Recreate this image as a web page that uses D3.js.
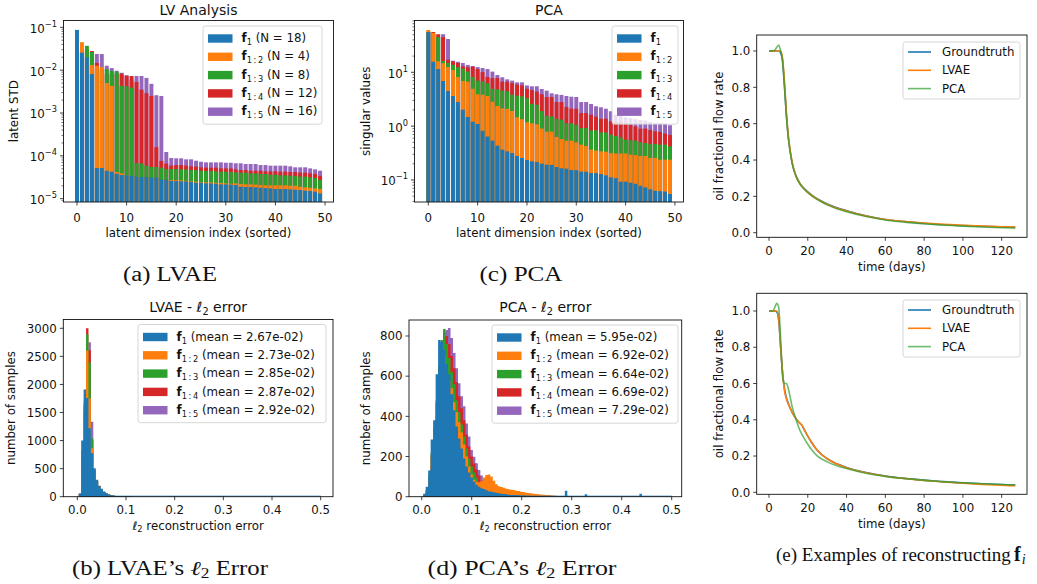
<!DOCTYPE html>
<html><head><meta charset="utf-8">
<script src="https://cdn.jsdelivr.net/npm/d3@7"></script>
<style>
body{margin:0;background:#fff}
svg{display:block}
text{font-family:"DejaVu Sans",sans-serif;fill:#111}
.cap{font-family:"Liberation Serif","DejaVu Serif",serif}
</style>
</head><body><svg id="c" width="1037" height="584"></svg>
<script>
// ---------------- DATA ----------------
const dims = d3.range(50); // latent dimension index (sorted)
const subs = ["1","1\u2009:\u20092","1\u2009:\u20093","1\u2009:\u20094","1\u2009:\u20095"];
const lvN = [18, 4, 8, 12, 16];
const lvaeMeans = ["2.67e-02","2.73e-02","2.85e-02","2.87e-02","2.92e-02"];
const pcaMeans  = ["5.95e-02","6.92e-02","6.64e-02","6.69e-02","7.29e-02"];

// (a) LV analysis : latent STD
const lvF1  = [0.087,0.0256,0.020,0.0081,5.2e-5,5.2e-5,4.5e-5,4.27e-5,3.84e-5,3.57e-5,3.5e-5,3.4e-5,3.27e-5,3.2e-5,3.2e-5,3.1e-5,3.1e-5,2.8e-5,2.75e-5,2.6e-5,2.58e-5,2.54e-5,2.54e-5,2.45e-5,2.36e-5,2.36e-5,2.28e-5,2.28e-5,2.24e-5,2.16e-5,2.16e-5,2.13e-5,2.08e-5,1.9e-5,1.87e-5,1.87e-5,1.84e-5,1.8e-5,1.77e-5,1.74e-5,1.68e-5,1.68e-5,1.68e-5,1.65e-5,1.62e-5,1.59e-5,1.54e-5,1.51e-5,1.46e-5,1.33e-5];
const lvF12 = [0.04,0.045,0.018,0.0132,0.0127,0.0118,0.005,0.0043,4.2e-5,3.9e-5,3.4e-5,3.3e-5,3.2e-5,3.1e-5,3.1e-5,3.0e-5,3.0e-5,2.7e-5,2.7e-5,2.73e-5,2.7e-5,2.68e-5,2.63e-5,2.54e-5,2.5e-5,2.45e-5,2.41e-5,2.41e-5,2.36e-5,2.32e-5,2.28e-5,2.24e-5,2.28e-5,2.2e-5,2.16e-5,2.16e-5,2.13e-5,2.08e-5,2.05e-5,2.05e-5,2.05e-5,2.05e-5,2.05e-5,2.01e-5,2.01e-5,1.9e-5,1.84e-5,1.8e-5,1.74e-5,1.68e-5];
const lvF13 = [0.03,0.03,0.037,0.0265,0.01,0.01,0.0106,0.0096,0.0092,0.0043,0.0042,0.0039,6.8e-5,6.6e-5,5.9e-5,5.5e-5,5.5e-5,5.3e-5,4.9e-5,4.9e-5,4.93e-5,4.84e-5,4.84e-5,4.67e-5,4.67e-5,4.5e-5,4.43e-5,4.43e-5,4.35e-5,4.27e-5,4.27e-5,4.2e-5,4.12e-5,4.05e-5,4.05e-5,3.9e-5,3.9e-5,3.77e-5,3.77e-5,3.63e-5,3.63e-5,3.5e-5,3.5e-5,3.45e-5,3.4e-5,3.27e-5,3.27e-5,3.15e-5,3.04e-5,2.73e-5];
const lvF14 = [0.02,0.03,0.03,0.028,0.0147,0.01,0.008,0.008,0.008,0.0083,0.0074,0.0073,0.0053,0.0035,0.0029,0.0025,1.6e-4,7.6e-5,6.6e-5,5.9e-5,6.1e-5,6.1e-5,5.9e-5,5.7e-5,5.6e-5,5.4e-5,5.3e-5,5.3e-5,5.3e-5,5.1e-5,5.1e-5,5.1e-5,4.84e-5,4.67e-5,4.67e-5,4.5e-5,4.5e-5,4.5e-5,4.35e-5,4.35e-5,4.35e-5,4.27e-5,4.27e-5,4.2e-5,4.2e-5,4.05e-5,4.05e-5,3.9e-5,3.77e-5,3.4e-5];
const lvF15 = [0.02,0.03,0.03,0.02,0.0238,0.0238,0.0127,0.0112,0.0097,0.0087,0.0076,0.006,0.0073,0.0073,0.0066,0.0048,0.0026,0.0025,1.23e-4,8.9e-5,8.75e-5,8.75e-5,8.3e-5,8.3e-5,7.7e-5,7.3e-5,7.05e-5,7.05e-5,7.05e-5,7.05e-5,6.9e-5,6.9e-5,6.7e-5,6.7e-5,6.45e-5,6.45e-5,6.45e-5,6.1e-5,6.1e-5,5.9e-5,5.9e-5,5.9e-5,5.9e-5,5.7e-5,5.4e-5,5.4e-5,5.4e-5,5.1e-5,4.84e-5,4.5e-5];

// (c) PCA : singular values
const pcaF1  = [56,15.7,11.5,6.9,4.5,3.63,2.8,2.02,1.48,1.21,1.1,0.82,0.64,0.537,0.434,0.366,0.34,0.316,0.279,0.257,0.235,0.222,0.216,0.2,0.192,0.19,0.174,0.165,0.162,0.153,0.152,0.143,0.142,0.135,0.134,0.129,0.122,0.112,0.108,0.093,0.093,0.089,0.085,0.078,0.073,0.067,0.063,0.062,0.061,0.055];
const pcaF12 = [61,54,16,14.7,12.5,11,8.2,6.9,6.7,4.95,3.9,3.84,3.63,2.84,2.37,2.14,2.1,1.91,1.46,1.34,1.18,1.13,1.08,0.9,0.79,0.79,0.63,0.577,0.537,0.537,0.5,0.453,0.428,0.366,0.351,0.34,0.335,0.316,0.31,0.31,0.31,0.295,0.29,0.279,0.279,0.257,0.257,0.238,0.238,0.238];
const pcaF13 = [55,50,45,16.2,14.9,13.8,12.4,11.7,10.3,8.2,7.0,6.8,6.25,4.95,4.83,4.56,4.44,3.84,3.67,3.58,3.33,2.58,2.5,1.9,1.56,1.52,1.37,1.32,1.13,1.13,1.06,0.925,0.92,0.837,0.837,0.77,0.76,0.694,0.656,0.62,0.56,0.55,0.537,0.5,0.486,0.466,0.466,0.453,0.453,0.42];
const pcaF14 = [55,56,51,45,17.1,16,14.9,12.9,12.4,12.7,11.5,10.1,8.2,7.8,7.8,6.7,6.7,6.3,5.9,5.7,4.95,4.69,4.37,3.9,3.48,3.48,2.8,2.8,2.27,2.11,2.11,1.75,1.75,1.63,1.5,1.37,1.37,1.23,1.19,1.19,1.1,1.06,0.99,0.9,0.9,0.85,0.8,0.78,0.725,0.684];
const pcaF15 = [55,50,45,51,41.5,16.4,15.7,14.9,13.7,13.1,12.5,12,11.5,10.3,8.9,8.07,7.4,7.0,6.5,6.5,5.7,5.5,5.5,4.9,4.56,4.07,3.9,3.8,3.63,3.52,3.48,2.8,2.8,2.58,2.34,2.24,2.11,1.89,1.63,1.56,1.46,1.41,1.35,1.30,1.27,1.19,1.14,1.13,1.1,1.04];

// histogram bins (l2 reconstruction error)
const histMin = 0.003, histMax = 0.5, histBins = 100;
// (b) LVAE histogram counts per bin (bins beyond the array are empty)
const lvHistF1  = [60,1000,1910,1760,1220,772,505,300,195,140,90,60,40,25,18,12,8,6,4,3,2,2,1,1,1,1,0,1,0,0,1];
const lvHistF12 = [40,800,1700,2600,1750,861,480,280,180,130,85,55,38,24,16,14,9,6,4,3,2];
const lvHistF13 = [40,820,1650,2892,2390,1040,470,280,185,135,88,58,38,24,17,11,10,6,4,3,2];
const lvHistF14 = [35,780,1600,3000,2610,1000,480,285,185,135,85,58,38,28,17,11,8,6,4,3,2];
const lvHistF15 = [30,700,1500,2500,2750,1336,480,290,190,135,88,58,39,24,18,11,9,7,4,3,2];
// (d) PCA histogram counts per bin
const pcaHistF1  = [15,50,130,285,380,610,780,770,730,660,610,510,430,350,290,240,190,150,120,95,75,60,50,42,38,32,27,25,22,20,17,15,13,12,10,9,8,8,7,6,6,5,5,4,4,4,3,3,3,3,2,2,2,2,2,2,3,30,4,2,2,3,2,2,2,12,1,1,1,1,1,1,1,1,1,1,1,1,1,1,1,1,1,1,1,1,1,15,1,1,1,1,1,1,1,1,1,1,1,1];
const pcaHistF12 = [10,30,90,200,320,450,600,700,700,640,580,540,470,420,370,320,260,200,150,110,85,75,72,78,95,108,110,100,80,62,52,48,44,40,37,35,33,30,28,25,23,20,18,17,15,14,12,11,10,9,8,7,6,5,4,3,2,2];
const pcaHistF13 = [10,35,100,220,340,480,650,780,835,760,690,620,560,480,420,360,300,240,190,150,120,95,70,55,45,38,32,28,24,21,18,16,14,12,10,9,8,7,6,5,4,4,3,3,2,2,2];
const pcaHistF14 = [8,30,95,210,330,470,640,760,820,800,760,700,640,570,500,440,380,310,250,200,165,135,105,80,62,50,42,35,30,25,21,18,15,13,11,10,8,7,6,5,4,4,3,3,2,2];
const pcaHistF15 = [5,20,60,150,260,400,560,700,780,830,840,790,715,640,565,500,450,365,300,232,199,166,133,105,85,70,58,48,40,34,29,25,21,18,15,13,11,10,8,7,6,5,4,3,3,2,2];

// (e) reconstruction examples: oil fractional flow rate vs time (days)
const timeTop = [0,2,3,4,5,6,7,8,9,10,11,12,14,16,18,20,23,26,30,35,40,50,60,70,80,90,100,110,120,127];
const gtTop   = [1.0,1.0,1.0,1.0,1.0,0.99,0.94,0.80,0.64,0.52,0.44,0.38,0.31,0.27,0.245,0.225,0.2,0.18,0.158,0.137,0.121,0.093,0.073,0.061,0.051,0.044,0.039,0.035,0.032,0.03];
const lvaeTop = [1.0,1.0,1.0,1.0,1.0,1.0,0.96,0.83,0.66,0.53,0.45,0.385,0.31,0.268,0.242,0.222,0.198,0.178,0.156,0.135,0.119,0.092,0.073,0.062,0.053,0.046,0.041,0.036,0.033,0.031];
const pcaTop  = [1.0,1.0,1.005,1.02,1.033,1.0,0.95,0.81,0.64,0.52,0.44,0.38,0.31,0.268,0.242,0.22,0.196,0.176,0.153,0.132,0.116,0.089,0.07,0.058,0.049,0.042,0.036,0.031,0.027,0.025];
const timeBot = [0,2,3,4,5,6,7,8,9,10,12,14,16,17,18,20,22,25,30,35,40,50,60,70,80,90,100,110,120,127];
const gtBot   = [1.0,1.0,1.0,0.995,0.95,0.8,0.66,0.57,0.52,0.49,0.44,0.405,0.38,0.37,0.35,0.31,0.275,0.23,0.185,0.157,0.137,0.109,0.09,0.077,0.067,0.059,0.052,0.047,0.043,0.04];
const lvaeBot = [1.0,1.0,1.0,1.0,0.96,0.8,0.66,0.56,0.515,0.485,0.44,0.405,0.38,0.37,0.35,0.31,0.275,0.23,0.185,0.156,0.136,0.108,0.089,0.076,0.065,0.057,0.05,0.044,0.039,0.036];
const pcaBot  = [1.0,1.0,1.02,1.042,1.02,0.85,0.64,0.6,0.6,0.57,0.47,0.40,0.34,0.32,0.30,0.265,0.235,0.2,0.168,0.147,0.131,0.105,0.088,0.076,0.066,0.058,0.052,0.047,0.043,0.04];
const lineNames = ["Groundtruth","LVAE","PCA"];

const xTicksDims = [0,10,20,30,40,50];
const xTicksErr = [0,0.1,0.2,0.3,0.4,0.5];
const yTicksLvae = [0,500,1000,1500,2000,2500,3000];
const yTicksPca = [0,200,400,600,800];
const xTicksTime = [0,20,40,60,80,100,120];
const yTicksRate = [0,0.2,0.4,0.6,0.8,1.0];

// ---------------- DRAWING ----------------
const svg = d3.select("#c");
const colors = ["#1f77b4","#ff7f0e","#2ca02c","#d62728","#9467bd"];
const lineColors = ["#1f77b4","#ff7f0e","#2ca02c"];
const FS = 11.8;
const defs = svg.append("defs");
let clipN = 0;

function panel(b){
  const id = "clip" + (clipN++);
  defs.append("clipPath").attr("id", id).append("rect")
    .attr("x", b.x0).attr("y", b.y0).attr("width", b.x1-b.x0).attr("height", b.y1-b.y0);
  const g = svg.append("g");
  const plot = g.append("g").attr("clip-path", `url(#${id})`);
  return {g, plot};
}
function frame(g, b){
  g.append("rect").attr("x", b.x0).attr("y", b.y0).attr("width", b.x1-b.x0).attr("height", b.y1-b.y0)
   .attr("fill","none").attr("stroke","#111").attr("stroke-width",0.9);
}
function xAxis(g, x, b, vals, fmt, off){
  vals.forEach(v=>{
    g.append("line").attr("x1",x(v)).attr("x2",x(v)).attr("y1",b.y1).attr("y2",b.y1+3.5).attr("stroke","#111").attr("stroke-width",0.8);
    g.append("text").attr("x",x(v)).attr("y",b.y1+off).attr("text-anchor","middle").attr("font-size",FS).text(fmt(v));
  });
}
function yAxis(g, y, b, vals, fmt){
  vals.forEach(v=>{
    g.append("line").attr("x1",b.x0-3.5).attr("x2",b.x0).attr("y1",y(v)).attr("y2",y(v)).attr("stroke","#111").attr("stroke-width",0.8);
    g.append("text").attr("x",b.x0-6.5).attr("y",y(v)+4.2).attr("text-anchor","end").attr("font-size",FS).text(fmt(v));
  });
}
function yLogAxis(g, y, b){
  const [lo, hi] = y.domain();
  const e0 = Math.floor(Math.log10(lo)), e1 = Math.ceil(Math.log10(hi));
  for(let e=e0;e<=e1;e++){
    const v = Math.pow(10,e);
    if(v>=lo && v<=hi){
      g.append("line").attr("x1",b.x0-3.5).attr("x2",b.x0).attr("y1",y(v)).attr("y2",y(v)).attr("stroke","#111").attr("stroke-width",0.8);
      const t = g.append("text").attr("x",b.x0-6.5).attr("y",y(v)+5.4).attr("text-anchor","end").attr("font-size",FS);
      t.append("tspan").text("10");
      t.append("tspan").attr("font-size",FS*0.7).attr("dy",-6).text(e<0 ? "\u2212"+(-e) : String(e));
    }
    for(let m=2;m<=9;m++){
      const w = m*v;
      if(w>=lo && w<=hi)
        g.append("line").attr("x1",b.x0-2).attr("x2",b.x0).attr("y1",y(w)).attr("y2",y(w)).attr("stroke","#111").attr("stroke-width",0.6);
    }
  }
}
function label(g, x, y, txt, rot){
  const t = g.append("text").attr("font-size",FS).attr("text-anchor","middle");
  if(rot) t.attr("transform",`translate(${x},${y}) rotate(-90)`); else t.attr("x",x).attr("y",y);
  t.text(txt); return t;
}
function titleL2(g, x, y, pre){
  const t = g.append("text").attr("x",x).attr("y",y).attr("text-anchor","middle").attr("font-size",14);
  t.append("tspan").text(pre + "\u2113");
  t.append("tspan").attr("font-size",14*0.7).attr("dy",3).text("2");
  t.append("tspan").attr("dy",-3).text(" error");
}
function xlabelL2(g, x, y){
  const t = g.append("text").attr("x",x).attr("y",y).attr("text-anchor","middle").attr("font-size",FS);
  t.append("tspan").attr("font-style","italic").text("\u2113");
  t.append("tspan").attr("font-size",FS*0.7).attr("dy",2.5).text("2");
  t.append("tspan").attr("dy",-2.5).text(" reconstruction error");
}
function fText(t, sub, rest){
  t.append("tspan").attr("font-weight","bold").text("f");
  t.append("tspan").attr("font-size",FS*0.7).attr("dy",3).text(sub);
  if(rest) t.append("tspan").attr("dy",-3).text(rest);
}
function patchLegend(g, bx, by, bw, rows){
  const h = 25 + 18.3*(rows.length-1);
  g.append("rect").attr("x",bx).attr("y",by).attr("width",bw).attr("height",h).attr("rx",2.5)
    .attr("fill","#fff").attr("fill-opacity",0.8).attr("stroke","#ccc").attr("stroke-width",0.8);
  rows.forEach((r,i)=>{
    const cy = by + 12.5 + 18.3*i;
    g.append("rect").attr("x",bx+5).attr("y",cy-4.2).attr("width",24.5).attr("height",8.4).attr("fill",colors[i]);
    const t = g.append("text").attr("x",bx+38.5).attr("y",cy+3.6).attr("font-size",FS);
    fText(t, subs[i], r);
  });
}
function lineLegend(g, bx, by, bw){
  const h = 57;
  g.append("rect").attr("x",bx).attr("y",by).attr("width",bw).attr("height",h).attr("rx",2.5)
    .attr("fill","#fff").attr("fill-opacity",0.8).attr("stroke","#ccc").attr("stroke-width",0.8);
  lineNames.forEach((n,i)=>{
    const cy = by + 10 + 18.3*i;
    g.append("line").attr("x1",bx+5).attr("x2",bx+28).attr("y1",cy).attr("y2",cy)
      .attr("stroke",lineColors[i]).attr("stroke-width",1.6).attr("stroke-opacity", i===2?0.7:1);
    g.append("text").attr("x",bx+39).attr("y",cy+4).attr("font-size",FS).text(n);
  });
}

// ---------- (a) LV Analysis ----------
{
  const b = {x0:63.5, x1:333.5, y0:20.5, y1:202};
  const x = d3.scaleLinear().domain([-2.72, 51.71]).range([b.x0,b.x1]);
  const y = d3.scaleLog().domain([Math.pow(10,-5.077), Math.pow(10,-0.841)]).range([b.y1,b.y0]);
  const {g, plot} = panel(b);
  const series = [lvF1, lvF12, lvF13, lvF14, lvF15];
  for(let s=4;s>=0;s--){
    plot.append("g").selectAll("rect").data(dims).join("rect")
      .attr("x", i=>x(i-0.4)).attr("width", x(0.8)-x(0))
      .attr("y", i=>y(series[s][i])).attr("height", i=>b.y1+2-y(series[s][i]))
      .attr("fill", colors[s]);
  }
  frame(g,b);
  xAxis(g, x, b, xTicksDims, d3.format("d"), 20);
  yLogAxis(g, y, b);
  g.append("text").attr("x",(b.x0+b.x1)/2).attr("y",15).attr("text-anchor","middle").attr("font-size",14).text("LV Analysis");
  label(g, (b.x0+b.x1)/2, 237, "latent dimension index (sorted)");
  label(g, 17.5, (b.y0+b.y1)/2, "latent STD", true);
  patchLegend(g, 203, 26, 119, lvN.map(n=>` (N = ${n})`));
}
// ---------- (c) PCA ----------
{
  const b = {x0:414.5, x1:683.5, y0:20.5, y1:202};
  const x = d3.scaleLinear().domain([-2.8, 51.74]).range([b.x0,b.x1]);
  const y = d3.scaleLog().domain([Math.pow(10,-1.409), Math.pow(10,1.962)]).range([b.y1,b.y0]);
  const {g, plot} = panel(b);
  const series = [pcaF1, pcaF12, pcaF13, pcaF14, pcaF15];
  for(let s=4;s>=0;s--){
    plot.append("g").selectAll("rect").data(dims).join("rect")
      .attr("x", i=>x(i-0.4)).attr("width", x(0.8)-x(0))
      .attr("y", i=>y(series[s][i])).attr("height", i=>b.y1+2-y(series[s][i]))
      .attr("fill", colors[s]);
  }
  frame(g,b);
  xAxis(g, x, b, xTicksDims, d3.format("d"), 20);
  yLogAxis(g, y, b);
  g.append("text").attr("x",(b.x0+b.x1)/2).attr("y",15).attr("text-anchor","middle").attr("font-size",14).text("PCA");
  label(g, (b.x0+b.x1)/2, 237, "latent dimension index (sorted)");
  label(g, 370, (b.y0+b.y1)/2, "singular values", true);
  patchLegend(g, 612, 26, 66, ["","","","",""]);
}
// ---------- histogram helper ----------
function hist(b, xd, yTop, seriesList, yTicks, pre, legendX, legendW, means){
  const x = d3.scaleLinear().domain(xd).range([b.x0,b.x1]);
  const y = d3.scaleLinear().domain([0,yTop]).range([b.y1,b.y0]);
  const {g, plot} = panel(b);
  const edge = k => histMin + k*(histMax-histMin)/histBins;
  const area = d3.area().curve(d3.curveStepAfter).x(d=>x(d[0])).y0(y(0)).y1(d=>y(d[1]));
  for(let s=4;s>=0;s--){
    const c = seriesList[s];
    const pts = c.map((v,k)=>[edge(k), v]);
    pts.push([edge(c.length), c[c.length-1]]);
    plot.append("path").attr("d", area(pts)).attr("fill", colors[s]);
  }
  plot.append("line").attr("x1",x(edge(0))).attr("x2",x(edge(histBins))).attr("y1",y(0)-0.5).attr("y2",y(0)-0.5)
    .attr("stroke",colors[0]).attr("stroke-width",1);
  frame(g,b);
  xAxis(g, x, b, xTicksErr, d3.format(".1f"), 17);
  yAxis(g, y, b, yTicks, d3.format("d"));
  titleL2(g, (b.x0+b.x1)/2, 312, pre);
  xlabelL2(g, (b.x0+b.x1)/2, 529.5);
  patchLegend(g, legendX, b.y0+5, legendW, means.map(m=>` (mean = ${m})`));
  return g;
}
{
  const b = {x0:63.3, x1:333, y0:319.5, y1:496.7};
  const g = hist(b, [-0.0288, 0.5253], 3157, [lvHistF1,lvHistF12,lvHistF13,lvHistF14,lvHistF15], yTicksLvae, "LVAE - ", 138, 188, lvaeMeans);
  label(g, 15, (b.y0+b.y1)/2, "number of samples", true);
}
{
  const b = {x0:409, x1:681.7, y0:320, y1:496.7};
  const g = hist(b, [-0.0254, 0.52], 879.6, [pcaHistF1,pcaHistF12,pcaHistF13,pcaHistF14,pcaHistF15], yTicksPca, "PCA - ", 492, 186, pcaMeans);
  label(g, 370, (b.y0+b.y1)/2, "number of samples", true);
}
// ---------- (e) line panels ----------
function linePanel(b, yd, t, gt, lv, pc, legendY, xlabY){
  const x = d3.scaleLinear().domain([-6.34, 133.06]).range([b.x0,b.x1]);
  const y = d3.scaleLinear().domain(yd).range([b.y1,b.y0]);
  const {g, plot} = panel(b);
  const line = d3.line().curve(d3.curveMonotoneX).x((d,i)=>x(t[i])).y(d=>y(d));
  [gt, lv, pc].forEach((s,i)=>{
    plot.append("path").attr("d", line(s)).attr("fill","none").attr("stroke",lineColors[i])
      .attr("stroke-width",1.6).attr("stroke-opacity", i===2?0.7:1).attr("stroke-linejoin","round");
  });
  frame(g,b);
  xAxis(g, x, b, xTicksTime, d3.format("d"), 17.5);
  yAxis(g, y, b, yTicksRate, d3.format(".1f"));
  label(g, (b.x0+b.x1)/2, xlabY, "time (days)");
  label(g, 723, (b.y0+b.y1)/2, "oil fractional flow rate", true);
  lineLegend(g, 903, legendY, 117);
}
linePanel({x0:756.7, x1:1027, y0:35, y1:237.3}, [-0.0253, 1.088], timeTop, gtTop, lvaeTop, pcaTop, 42, 271);
linePanel({x0:756.7, x1:1027, y0:293.3, y1:494.3}, [-0.011, 1.0976], timeBot, gtBot, lvaeBot, pcaBot, 300, 528);

// ---------- captions ----------
function caption(x, y, w, parts, anchor){
  const t = svg.append("text").attr("class","cap").attr("x",x).attr("y",y).attr("text-anchor",anchor||"middle").attr("font-size",20)
    .attr("textLength", w).attr("lengthAdjust","spacingAndGlyphs");
  parts.forEach(p=>{
    const s = t.append("tspan").text(p.t);
    if(p.bold) s.attr("font-weight","bold");
    if(p.it) s.attr("font-style","italic");
    if(p.fs) s.attr("font-size",p.fs);
    if(p.dy) s.attr("dy",p.dy);
  });
}
caption(170, 281, 94, [{t:"(a) LVAE"}]);
caption(521, 281, 83, [{t:"(c) PCA"}]);
caption(170, 575, 196, [{t:"(b) LVAE\u2019s "},{t:"\u2113",it:true},{t:"2",fs:14,dy:3},{t:" Error",dy:-3}]);
caption(522, 575, 189, [{t:"(d) PCA\u2019s "},{t:"\u2113",it:true},{t:"2",fs:14,dy:3},{t:" Error",dy:-3}]);
svg.append("text").attr("class","cap").attr("x",776).attr("y",561).attr("font-size",19).text("(e) Examples of reconstructing");
{
  const t = svg.append("text").attr("class","cap").attr("x",1014).attr("y",561).attr("font-size",20);
  t.append("tspan").attr("font-weight","bold").text("f");
  t.append("tspan").attr("font-style","italic").attr("font-size",14).attr("dx",1).attr("dy",3).text("i");
}
</script>
</body></html>
